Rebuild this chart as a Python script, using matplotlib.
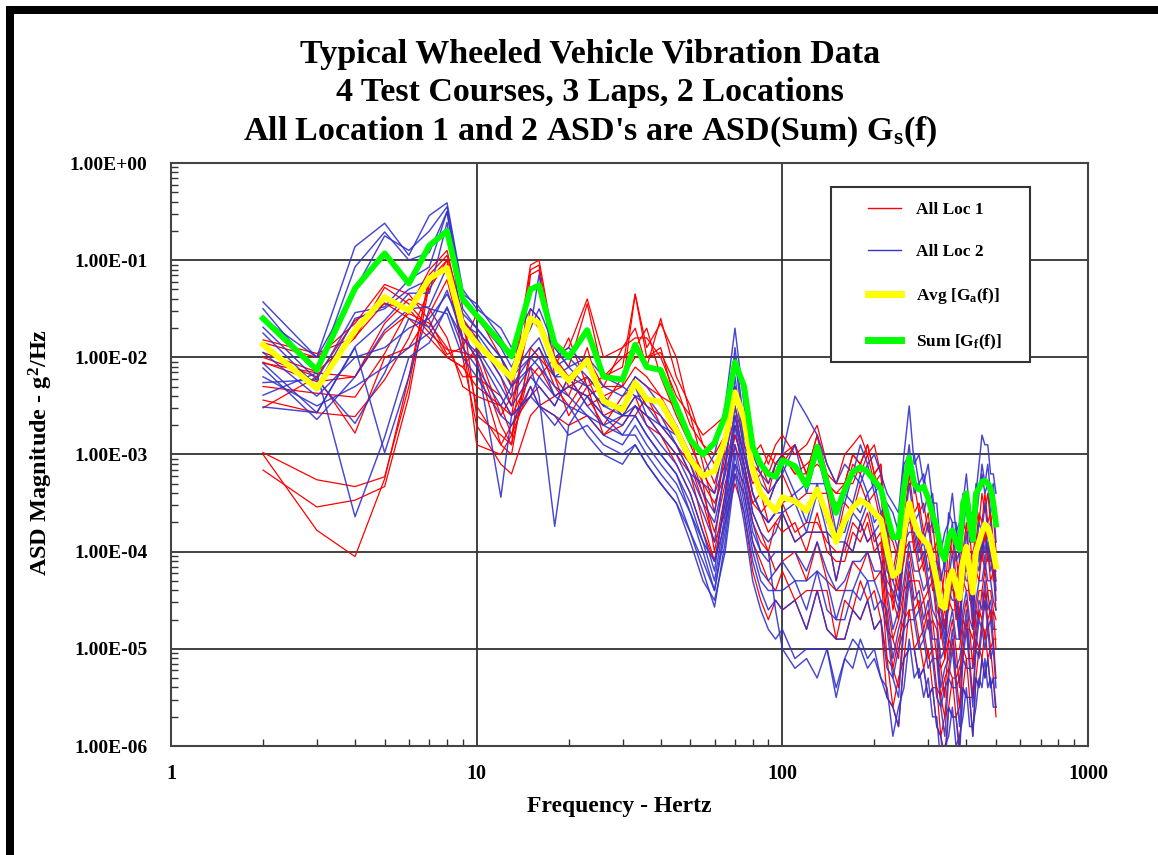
import matplotlib
matplotlib.use("Agg")
import matplotlib.pyplot as plt
import numpy as np
from matplotlib.lines import Line2D
from matplotlib.patches import Rectangle
from matplotlib.ticker import LogLocator, NullFormatter

plt.rcParams["font.family"] = ["Liberation Serif", "DejaVu Serif"]
plt.rcParams["font.weight"] = "bold"
plt.rcParams["mathtext.fontset"] = "custom"
plt.rcParams["mathtext.rm"] = "Liberation Serif:bold"
plt.rcParams["mathtext.it"] = "Liberation Serif:bold"
plt.rcParams["mathtext.bf"] = "Liberation Serif:bold"

# frequency grid (Hz) shared by every curve
freq = [2, 3, 4, 5, 6, 7, 8, 9, 10,
        12, 13, 15, 16, 18, 20, 23, 26, 30, 33, 36, 40, 45, 50, 55, 60, 65, 70, 75, 80, 85, 90, 95,
        100, 110, 120, 130, 140, 150, 160, 170, 180, 190, 200, 210,
        220, 230, 240, 250, 260, 270, 280, 290, 300, 310, 320, 330, 340, 350, 360, 370, 380, 390,
        400, 410, 420, 430, 440, 450, 460, 470, 480, 490, 500]

# all values below are log10(g^2/Hz)
avg_log = [-1.87, -2.32, -1.72, -1.38, -1.52, -1.19, -1.08, -1.68, -1.86,
           -2.1, -2.21, -1.6, -1.65, -2.08, -2.24, -2.03, -2.45, -2.54, -2.26, -2.43, -2.46, -2.75, -3.05, -3.22, -3.17, -2.85, -2.36, -2.64, -3.15, -3.4, -3.5, -3.58,
           -3.44, -3.48, -3.58, -3.36, -3.62, -3.9, -3.68, -3.55, -3.47, -3.52, -3.6, -3.67,
           -3.98, -4.25, -4.2, -3.8, -3.5, -3.7, -3.82, -3.88, -3.93, -4.1, -4.3, -4.55, -4.58, -4.3, -4.2, -4.35, -4.48, -4.1,
           -3.95, -4.2, -4.42, -4.0, -3.9, -3.8, -3.72, -3.75, -3.85, -4.0, -4.15]

sum_log = [-1.6, -2.13, -1.29, -0.93, -1.24, -0.85, -0.70, -1.40, -1.57,
           -1.85, -1.99, -1.3, -1.26, -1.86, -2.0, -1.72, -2.2, -2.23, -1.87, -2.1, -2.13, -2.5, -2.85, -3.0, -2.88, -2.6, -2.05, -2.3, -2.92, -3.1, -3.2, -3.23,
           -3.06, -3.12, -3.32, -2.92, -3.29, -3.6, -3.36, -3.18, -3.13, -3.18, -3.27, -3.35,
           -3.62, -3.85, -3.85, -3.35, -3.03, -3.3, -3.36, -3.33, -3.45, -3.62, -3.75, -4.0, -4.08, -3.85, -3.78, -3.9, -3.98, -3.5,
           -3.4, -3.7, -3.88, -3.4, -3.35, -3.28, -3.27, -3.3, -3.35, -3.5, -3.72]

loc1_log = [
    [-1.85, -2.0, -1.65, -1.25, -1.35, -1.62, -1.97, -1.9, -1.55,
     -2.0, -2.3, -1.05, -1.0, -1.9, -2.1, -1.45, -2.2, -2.1, -1.35, -1.9, -1.65, -2.0, -2.6, -2.8, -2.7, -2.6, -2.4, -2.7, -3.0, -2.9, -3.1, -2.9,
     -2.8, -3.0, -2.9, -2.7, -3.1, -3.3, -3.0, -2.9, -2.8, -3.0, -2.9, -3.2,
     -3.7, -4.2, -3.9, -3.7, -3.2, -3.6, -3.5, -3.8, -3.6, -4.0, -3.9, -4.5, -4.2, -4.2, -3.8, -4.3, -4.1, -4.0,
     -3.7, -4.1, -4.0, -3.9, -3.6, -3.7, -3.4, -3.7, -3.6, -3.9, -3.9],
    [-1.95, -2.15, -1.8, -1.28, -1.45, -1.7, -2.0, -2.1, -1.9,
     -2.6, -2.4, -1.1, -1.05, -2.0, -2.2, -2.0, -2.3, -1.9, -1.7, -2.1, -1.6, -2.2, -2.5, -2.9, -3.1, -2.9, -2.5, -2.9, -3.1, -3.2, -3.0, -3.1,
     -3.1, -2.9, -3.2, -2.8, -3.3, -3.4, -3.3, -3.0, -3.1, -2.9, -3.2, -3.1,
     -4.1, -4.2, -4.4, -3.7, -3.6, -3.6, -3.9, -3.8, -4.0, -4.0, -4.4, -4.5, -4.8, -4.2, -4.3, -4.3, -4.7, -4.0,
     -4.1, -4.1, -4.5, -3.9, -4.0, -3.7, -3.9, -3.7, -4.0, -3.9, -4.3],
    [-2.0, -2.2, -1.62, -1.45, -1.5, -1.75, -1.92, -1.95, -2.0,
     -2.7, -2.9, -1.15, -1.1, -2.2, -2.4, -1.9, -2.5, -2.2, -2.0, -2.0, -1.95, -2.3, -2.7, -2.9, -3.0, -2.8, -2.3, -2.8, -3.2, -3.1, -3.3, -3.1,
     -3.0, -3.2, -3.1, -3.0, -3.3, -3.4, -3.4, -3.1, -3.2, -3.0, -3.3, -3.2,
     -4.0, -4.5, -4.2, -4.0, -3.5, -3.9, -3.8, -4.1, -3.9, -4.3, -4.3, -4.8, -4.6, -4.5, -4.2, -4.6, -4.5, -4.3,
     -4.0, -4.4, -4.4, -4.2, -3.9, -4.0, -3.7, -4.0, -3.9, -4.2, -4.2],
    [-2.05, -2.25, -2.2, -1.65, -1.4, -1.5, -1.8, -2.3, -2.4,
     -2.5, -2.8, -2.0, -1.9, -2.3, -2.5, -2.2, -2.6, -2.5, -2.2, -2.3, -2.4, -2.5, -2.9, -3.2, -3.4, -3.1, -2.7, -3.0, -3.4, -3.6, -3.5, -3.3,
     -3.2, -3.5, -3.4, -3.4, -3.4, -3.9, -3.5, -3.6, -3.3, -3.5, -3.4, -3.7,
     -4.4, -4.5, -4.7, -4.0, -3.9, -3.9, -4.2, -4.1, -4.4, -4.3, -4.7, -4.8, -5.1, -4.5, -4.6, -4.6, -4.9, -4.3,
     -4.4, -4.4, -4.8, -4.2, -4.3, -4.0, -4.2, -4.0, -4.3, -4.2, -4.6],
    [-2.3, -2.37, -2.41, -1.96, -1.5, -1.1, -0.9, -1.6, -1.8,
     -2.2, -2.5, -1.6, -1.7, -2.0, -2.3, -2.4, -2.7, -2.4, -2.3, -2.5, -2.6, -2.8, -3.0, -3.4, -3.8, -3.3, -2.9, -3.2, -3.5, -3.4, -3.7, -3.6,
     -3.5, -3.8, -3.7, -3.7, -3.9, -4.0, -4.0, -3.7, -3.8, -3.6, -3.9, -3.8,
     -4.5, -4.9, -4.7, -4.4, -4.0, -4.3, -4.3, -4.5, -4.4, -4.7, -4.8, -5.2, -5.1, -4.9, -4.7, -5.0, -5.0, -4.7,
     -4.5, -4.8, -4.9, -4.6, -4.4, -4.4, -4.2, -4.4, -4.4, -4.6, -4.7],
    [-2.44, -2.57, -2.61, -2.23, -1.8, -1.3, -1.0, -1.7, -2.05,
     -2.9, -3.0, -1.9, -2.0, -2.2, -2.6, -2.3, -2.8, -2.6, -2.4, -2.7, -2.8, -3.0, -3.2, -3.7, -4.1, -3.5, -3.1, -3.3, -3.7, -3.9, -4.0, -4.2,
     -4.1, -4.0, -4.3, -3.9, -4.3, -4.4, -4.4, -4.1, -4.2, -4.0, -4.3, -4.2,
     -5.1, -5.2, -5.4, -4.7, -4.6, -4.6, -4.9, -4.8, -5.1, -5.0, -5.4, -5.5, -5.7, -5.2, -5.3, -5.3, -5.6, -5.0,
     -5.1, -5.1, -5.5, -4.9, -5.0, -4.7, -4.9, -4.7, -5.0, -4.9, -5.3],
    [-2.52, -2.2, -2.78, -2.0, -1.9, -1.55, -1.2, -1.85, -2.5,
     -2.9, -2.7, -2.4, -2.3, -2.5, -2.2, -2.5, -2.4, -2.6, -2.6, -2.4, -2.7, -2.9, -3.1, -3.5, -3.9, -3.6, -3.2, -3.4, -3.9, -4.1, -4.3, -4.4,
     -4.2, -4.5, -4.4, -4.4, -4.4, -4.9, -4.5, -4.6, -4.3, -4.5, -4.4, -4.7,
     -5.1, -5.6, -5.3, -5.1, -4.6, -5.0, -4.9, -5.2, -5.0, -5.4, -5.4, -5.9, -5.7, -5.6, -5.3, -5.7, -5.6, -5.4,
     -5.1, -5.5, -5.5, -5.3, -5.0, -5.1, -4.8, -5.1, -5.0, -5.3, -5.3],
    [-2.98, -3.26, -3.33, -3.23, -2.3, -1.15, -0.95, -1.55, -2.6,
     -2.8, -2.9, -2.1, -2.2, -2.0, -1.9, -1.4, -2.0, -1.9, -1.8, -1.8, -2.0, -2.4, -2.6, -3.1, -3.6, -3.0, -2.6, -3.0, -3.3, -3.2, -3.4, -3.1,
     -3.0, -2.9, -3.2, -2.8, -3.2, -3.3, -3.3, -3.0, -3.1, -2.9, -3.2, -3.1,
     -3.8, -3.9, -4.1, -3.4, -3.3, -3.3, -3.6, -3.5, -3.8, -3.7, -4.1, -4.2, -4.5, -3.9, -4.0, -4.0, -4.4, -3.7,
     -3.8, -3.8, -4.2, -3.6, -3.7, -3.4, -3.6, -3.4, -3.7, -3.6, -4.0],
    [-3.16, -3.54, -3.47, -3.33, -2.4, -1.25, -1.05, -1.8, -2.9,
     -3.0, -2.8, -2.3, -2.5, -2.4, -2.3, -2.2, -2.4, -2.3, -1.35, -2.0, -1.9, -2.5, -2.8, -3.3, -4.0, -3.4, -2.8, -3.1, -3.6, -3.8, -4.0, -3.7,
     -3.8, -3.7, -4.0, -3.6, -4.0, -4.1, -4.1, -3.8, -3.9, -3.7, -4.0, -3.9,
     -4.7, -5.2, -4.9, -4.7, -4.2, -4.6, -4.5, -4.8, -4.6, -5.0, -5.0, -5.5, -5.3, -5.2, -4.9, -5.3, -5.2, -5.0,
     -4.7, -5.1, -5.1, -4.9, -4.6, -4.7, -4.4, -4.7, -4.6, -4.9, -4.9],
    [-3.0, -3.78, -4.05, -3.25, -2.2, -1.2, -1.0, -2.0, -2.7,
     -3.1, -3.2, -2.6, -2.5, -2.6, -2.7, -2.6, -2.8, -2.7, -2.5, -2.6, -2.8, -3.1, -3.4, -3.8, -4.1, -3.7, -3.3, -3.6, -4.2, -4.5, -4.7, -4.5,
     -4.6, -4.5, -4.8, -4.4, -4.8, -4.9, -4.9, -4.6, -4.7, -4.5, -4.8, -4.7,
     -5.5, -5.6, -5.8, -5.1, -5.0, -5.0, -5.3, -5.2, -5.5, -5.4, -5.8, -5.9, -6.1, -5.6, -5.7, -5.7, -6.0, -5.4,
     -5.5, -5.5, -5.9, -5.3, -5.4, -5.1, -5.3, -5.1, -5.4, -5.3, -5.7],
    [-1.82, -1.96, -1.79, -1.44, -1.6, -1.8, -2.0, -2.1, -2.3,
     -2.5, -2.6, -1.5, -1.6, -2.1, -1.8, -2.3, -2.2, -2.0, -1.9, -1.7, -2.2, -2.6, -2.9, -3.0, -3.3, -2.9, -2.4, -2.7, -3.0, -3.1, -3.2, -3.0,
     -3.0, -3.2, -3.2, -3.1, -3.2, -3.6, -3.3, -3.3, -3.1, -3.2, -3.2, -3.4,
     -4.1, -4.6, -4.3, -4.1, -3.6, -4.0, -3.9, -4.2, -4.0, -4.4, -4.4, -4.9, -4.7, -4.6, -4.3, -4.7, -4.6, -4.4,
     -4.1, -4.5, -4.5, -4.3, -4.0, -4.1, -3.8, -4.1, -4.0, -4.3, -4.3],
    [-2.06, -2.16, -2.2, -1.75, -1.55, -1.65, -1.9, -2.2, -2.2,
     -2.4, -2.6, -2.2, -2.1, -2.4, -2.3, -2.4, -2.3, -2.3, -2.1, -2.2, -2.4, -2.7, -3.0, -3.3, -3.5, -3.2, -2.8, -3.1, -3.5, -3.6, -3.8, -3.7,
     -3.6, -3.9, -3.8, -3.8, -3.8, -4.3, -3.9, -4.0, -3.7, -3.9, -3.8, -4.1,
     -4.8, -4.9, -5.1, -4.4, -4.3, -4.3, -4.6, -4.5, -4.8, -4.7, -5.1, -5.2, -5.5, -4.9, -5.0, -5.0, -5.4, -4.7,
     -4.8, -4.8, -5.2, -4.6, -4.7, -4.4, -4.6, -4.4, -4.7, -4.6, -5.0],
]

loc2_log = [
    [-1.43, -2.0, -0.86, -0.62, -0.95, -0.54, -0.41, -1.3, -1.5,
     -1.7, -1.9, -1.5, -1.6, -2.0, -1.9, -2.1, -2.3, -2.4, -2.2, -2.3, -2.5, -2.7, -3.0, -3.2, -3.0, -2.5, -1.7, -2.5, -3.0, -3.2, -3.3, -3.1,
     -3.0, -2.4, -2.6, -2.8, -3.1, -3.3, -3.1, -3.2, -2.9, -3.1, -3.0, -3.2,
     -3.4, -3.5, -3.6, -3.0, -2.5, -3.1, -3.0, -3.3, -3.1, -3.5, -3.5, -4.0, -3.8, -3.7, -3.4, -3.8, -3.7, -3.5,
     -3.2, -3.6, -3.6, -3.4, -3.1, -2.8, -2.9, -2.9, -3.2, -3.2, -3.4],
    [-1.5, -2.16, -1.07, -0.71, -1.0, -0.92, -0.5, -1.4, -1.6,
     -1.9, -2.1, -1.7, -1.15, -2.1, -2.0, -2.2, -2.4, -2.6, -2.4, -2.5, -2.7, -2.8, -3.1, -3.4, -3.6, -2.9, -1.9, -2.7, -3.2, -3.4, -3.5, -3.3,
     -3.2, -2.9, -3.4, -3.0, -3.4, -3.5, -3.5, -3.2, -3.3, -3.1, -3.4, -3.3,
     -3.7, -3.8, -4.0, -3.3, -2.9, -3.4, -3.3, -3.6, -3.4, -3.8, -3.8, -4.3, -4.1, -4.0, -3.7, -4.1, -4.0, -3.8,
     -3.5, -3.9, -3.9, -3.7, -3.4, -3.2, -3.4, -3.3, -3.6, -3.5, -3.9],
    [-1.69, -2.23, -1.54, -1.48, -1.2, -1.07, -0.5, -1.5, -1.7,
     -2.0, -2.2, -1.9, -1.8, -2.2, -2.1, -2.3, -2.5, -2.5, -2.3, -2.6, -2.8, -3.0, -3.3, -3.6, -3.9, -3.1, -2.3, -3.0, -3.4, -3.6, -3.7, -3.6,
     -3.5, -3.4, -3.7, -3.3, -3.7, -3.8, -3.8, -3.5, -3.6, -3.4, -3.7, -3.6,
     -3.8, -4.3, -4.0, -3.8, -3.3, -3.7, -3.6, -3.9, -3.7, -4.1, -4.1, -4.6, -4.4, -4.3, -4.0, -4.4, -4.3, -4.1,
     -3.8, -4.2, -4.2, -4.0, -3.7, -3.8, -3.5, -3.8, -3.7, -4.0, -4.0],
    [-2.06, -2.57, -1.89, -1.62, -1.34, -1.34, -0.61, -1.7, -1.8,
     -2.2, -2.4, -2.1, -2.0, -2.4, -2.3, -2.4, -2.6, -2.7, -2.5, -2.7, -2.9, -3.1, -3.4, -3.8, -4.2, -3.4, -2.5, -3.1, -3.6, -3.8, -3.9, -3.8,
     -3.6, -3.9, -3.8, -3.8, -3.8, -4.3, -3.9, -4.0, -3.7, -3.9, -3.8, -4.1,
     -4.3, -4.4, -4.6, -3.9, -3.8, -3.8, -4.1, -4.0, -4.3, -4.2, -4.6, -4.7, -5.0, -4.4, -4.5, -4.5, -4.9, -4.2,
     -4.3, -4.3, -4.7, -4.1, -4.2, -3.9, -4.1, -3.9, -4.2, -4.1, -4.5],
    [-2.11, -2.64, -2.2, -1.72, -1.5, -1.48, -1.07, -1.6, -1.9,
     -2.3, -2.5, -2.2, -2.3, -2.5, -2.2, -2.5, -2.7, -2.8, -2.6, -2.8, -3.0, -3.2, -3.5, -3.9, -4.3, -3.6, -2.7, -3.3, -3.8, -4.0, -4.1, -4.0,
     -4.0, -4.0, -4.2, -3.9, -4.2, -4.4, -4.3, -4.1, -4.1, -4.0, -4.2, -4.2,
     -4.4, -4.8, -4.6, -4.3, -3.9, -4.2, -4.2, -4.4, -4.3, -4.6, -4.7, -5.1, -5.0, -4.8, -4.6, -4.9, -4.9, -4.6,
     -4.4, -4.7, -4.8, -4.5, -4.3, -4.3, -4.1, -4.3, -4.3, -4.5, -4.6],
    [-2.26, -2.23, -2.68, -2.16, -1.6, -1.69, -1.31, -1.8, -2.0,
     -3.44, -2.6, -2.4, -2.2, -2.4, -2.5, -2.6, -2.8, -2.9, -2.7, -2.9, -3.1, -3.3, -3.6, -4.0, -4.4, -3.7, -2.9, -3.4, -3.9, -4.2, -4.3, -4.2,
     -4.1, -4.3, -4.3, -4.2, -4.3, -4.7, -4.4, -4.4, -4.2, -4.3, -4.3, -4.5,
     -4.6, -5.1, -4.8, -4.6, -4.1, -4.5, -4.4, -4.7, -4.5, -4.9, -4.9, -5.4, -5.2, -5.1, -4.8, -5.2, -5.1, -4.9,
     -4.6, -5.0, -5.0, -4.8, -4.5, -4.6, -4.3, -4.6, -4.5, -4.8, -4.8],
    [-2.39, -2.16, -3.64, -2.82, -2.0, -1.85, -1.48, -1.9, -2.1,
     -2.5, -2.3, -2.1, -2.4, -3.74, -2.7, -2.4, -2.6, -2.8, -2.8, -3.0, -3.2, -3.4, -3.8, -4.2, -4.57, -3.9, -3.1, -3.6, -4.1, -4.4, -4.6, -4.5,
     -4.6, -4.5, -4.8, -4.4, -4.8, -4.9, -4.9, -4.6, -4.7, -4.5, -4.8, -4.7,
     -5.2, -5.3, -5.5, -4.8, -4.7, -4.7, -5.0, -4.9, -5.2, -5.1, -5.5, -5.6, -5.9, -5.3, -5.4, -5.4, -5.8, -5.1,
     -5.2, -5.2, -5.6, -5.0, -5.1, -4.8, -5.0, -4.8, -5.1, -5.0, -5.4],
    [-2.51, -2.57, -1.9, -2.98, -2.2, -1.5, -1.55, -2.0, -2.2,
     -2.6, -2.7, -2.3, -2.5, -2.6, -2.8, -2.7, -2.9, -3.0, -2.9, -3.1, -3.3, -3.5, -3.9, -4.3, -4.5, -4.0, -3.2, -3.7, -4.3, -4.6, -4.8, -4.9,
     -4.8, -5.1, -5.0, -5.0, -5.0, -5.5, -5.1, -5.2, -4.9, -5.1, -5.0, -5.3,
     -5.4, -5.9, -5.6, -5.4, -4.9, -5.3, -5.2, -5.5, -5.3, -5.7, -5.7, -6.2, -6.0, -5.9, -5.6, -6.0, -5.9, -5.7,
     -5.4, -5.8, -5.8, -5.6, -5.3, -5.4, -5.1, -5.4, -5.3, -5.6, -5.6],
    [-1.6, -2.0, -1.3, -0.75, -0.9, -0.7, -0.45, -1.35, -1.45,
     -1.8, -2.0, -1.7, -1.5, -1.9, -2.1, -2.0, -2.2, -2.3, -2.4, -2.4, -2.6, -2.9, -3.2, -3.3, -3.4, -2.8, -2.0, -2.8, -3.1, -3.3, -3.4, -3.3,
     -3.1, -3.4, -3.3, -3.3, -3.3, -3.8, -3.4, -3.5, -3.2, -3.4, -3.3, -3.6,
     -3.5, -3.6, -3.8, -3.1, -3.0, -3.0, -3.3, -3.2, -3.5, -3.4, -3.8, -3.9, -4.2, -3.6, -3.7, -3.7, -4.1, -3.4,
     -3.5, -3.5, -3.9, -3.3, -3.4, -3.1, -3.3, -3.1, -3.4, -3.3, -3.7],
    [-1.95, -2.4, -2.0, -1.9, -1.7, -1.6, -1.35, -1.65, -1.75,
     -2.1, -2.3, -2.0, -2.1, -2.3, -2.4, -2.6, -2.7, -2.6, -2.6, -2.8, -3.0, -3.2, -3.6, -3.9, -4.1, -3.5, -2.6, -3.2, -3.7, -4.0, -4.0, -4.6,
     -5.0, -5.2, -5.1, -5.3, -5.0, -5.4, -5.1, -4.9, -5.0, -5.2, -5.1, -5.3,
     -5.5, -5.6, -5.8, -5.1, -5.0, -5.0, -5.3, -5.2, -5.5, -5.4, -5.8, -5.9, -6.3, -5.6, -5.7, -5.7, -6.1, -5.4,
     -5.5, -5.5, -5.9, -5.3, -5.4, -5.1, -5.3, -5.1, -5.4, -5.3, -5.6],
    [-2.2, -2.5, -2.3, -2.1, -1.9, -1.75, -1.5, -1.8, -1.95,
     -2.4, -2.6, -2.4, -2.5, -2.7, -2.5, -2.8, -3.0, -3.1, -2.9, -3.1, -3.3, -3.5, -3.8, -4.1, -4.4, -3.8, -3.0, -3.5, -4.0, -4.3, -4.4, -4.4,
     -4.4, -4.3, -4.6, -4.2, -4.6, -4.7, -4.7, -4.4, -4.5, -4.3, -4.6, -4.5,
     -4.8, -5.3, -5.0, -4.8, -4.3, -4.7, -4.6, -4.9, -4.7, -5.1, -5.1, -5.6, -5.4, -5.3, -5.0, -5.4, -5.3, -5.1,
     -4.8, -5.2, -5.2, -5.0, -4.7, -4.8, -4.5, -4.8, -4.7, -5.0, -5.0],
    [-1.75, -2.3, -1.6, -1.5, -1.3, -1.2, -1.1, -1.55, -1.7,
     -2.0, -2.2, -2.0, -1.9, -2.2, -2.2, -2.3, -2.5, -2.6, -2.5, -2.6, -2.7, -2.9, -3.2, -3.5, -3.7, -3.2, -2.2, -2.9, -3.4, -3.6, -3.7, -3.6,
     -3.6, -3.5, -3.8, -3.4, -3.8, -3.9, -3.9, -3.6, -3.7, -3.5, -3.8, -3.7,
     -4.2, -4.3, -4.5, -3.8, -3.7, -3.7, -4.0, -3.9, -4.2, -4.1, -4.5, -4.6, -4.9, -4.3, -4.4, -4.4, -4.8, -4.1,
     -4.2, -4.2, -4.6, -4.0, -4.1, -3.8, -4.0, -3.8, -4.1, -4.0, -4.4],
]

title_lines = ["Typical Wheeled Vehicle Vibration Data",
               "4 Test Courses, 3 Laps, 2 Locations",
               r"All Location 1 and 2 ASD's are ASD(Sum) G$_\mathrm{s}$(f)"]
legend_labels = ["All Loc 1", "All Loc 2", r"Avg [G$_\mathrm{a}$(f)]", r"Sum [G$_\mathrm{f}$(f)]"]
ytick_vals = [1e-6, 1e-5, 1e-4, 1e-3, 1e-2, 1e-1, 1e0]
ytick_labels = ["1.00E-06", "1.00E-05", "1.00E-04", "1.00E-03", "1.00E-02", "1.00E-01", "1.00E+00"]
xtick_vals = [1, 10, 100, 1000]
xtick_labels = ["1", "10", "100", "1000"]

red = "#ff0000"
blue = "#3333cc"
yellow = "#ffff00"
green = "#00ff00"

W, H = 1158, 855
fig = plt.figure(figsize=(W / 100, H / 100), dpi=100)
ax = fig.add_axes([171 / W, 1 - 746 / H, (1088 - 171) / W, (746 - 163) / H])

f = np.array(freq, dtype=float)
for tr in loc1_log:
    ax.plot(f, 10.0 ** np.array(tr), color=red, lw=0.9)
for tr in loc2_log:
    ax.plot(f, 10.0 ** np.array(tr), color=blue, lw=1.05, alpha=0.9)
ax.plot(f, 10.0 ** np.array(avg_log), color=yellow, lw=4.2, solid_joinstyle="round")
ax.plot(f, 10.0 ** np.array(sum_log), color=green, lw=4.2, solid_joinstyle="round")

ax.set_xscale("log")
ax.set_yscale("log")
ax.set_xlim(1, 1000)
ax.set_ylim(1e-6, 1)
ax.set_yticks(ytick_vals, labels=ytick_labels)
ax.set_xticks(xtick_vals, labels=xtick_labels)
ax.yaxis.set_minor_locator(LogLocator(base=10, subs=np.arange(2, 10), numticks=20))
ax.xaxis.set_minor_locator(LogLocator(base=10, subs=np.arange(2, 10), numticks=20))
ax.yaxis.set_minor_formatter(NullFormatter())
ax.xaxis.set_minor_formatter(NullFormatter())
ax.tick_params(which="both", direction="in", colors="black")
ax.tick_params(which="major", length=0)
ax.tick_params(which="minor", length=5, width=1, color="#333333")
ax.tick_params(axis="y", which="major", labelsize=14, pad=17)
ax.tick_params(axis="x", which="major", labelsize=14.5, pad=13)
for lab in ax.get_xticklabels() + ax.get_yticklabels():
    lab.set_fontweight("bold")

ax.set_axisbelow(True)
ax.grid(True, which="major", color="#333333", lw=1.3)
for sp in ax.spines.values():
    sp.set_color("#444444")
    sp.set_linewidth(1.5)

ax.set_xlabel("Frequency - Hertz", fontsize=17, fontweight="bold")
ax.xaxis.set_label_coords((619.5 - 171) / 917, -(796 - 746) / 583)
ax.set_ylabel("ASD Magnitude - g$^2$/Hz", fontsize=17.5, fontweight="bold")
ax.yaxis.set_label_coords((55 - 171) / 917, 1 - (452 - 163) / 583)

# legend box drawn on its own so the entries can sit inside it like the original
ax.add_patch(Rectangle(((831 - 171) / 917, 1 - (362 - 163) / 583), (1030 - 831) / 917, (362 - 187) / 583,
                       transform=ax.transAxes, facecolor="white", edgecolor="#333333",
                       lw=1.5, zorder=4))
handles = [Line2D([], [], color=red, lw=1.0),
           Line2D([], [], color=blue, lw=1.0),
           Line2D([], [], color=yellow, lw=5.0),
           Line2D([], [], color=green, lw=5.0)]
leg = ax.legend(handles, legend_labels, loc="upper left",
                bbox_to_anchor=((868 - 171) / 917, 1 - (202 - 163) / 583),
                prop={"family": "Liberation Serif", "weight": "bold", "size": 12.5},
                frameon=False, labelspacing=1.5, borderpad=0,
                handlelength=1.9, handletextpad=0.85, borderaxespad=0)
leg.set_zorder(5)

title_y = [55, 93, 132]
for line, yp in zip(title_lines, title_y):
    fig.text(590 / W, 1 - yp / H, line, ha="center", va="center",
             fontsize=24.5, fontweight="bold")

# thick black frame on the left and top edges of the picture
fig.add_artist(Rectangle((6 / W, 0), 8 / W, 1 - 6 / H, transform=fig.transFigure,
                         facecolor="black", edgecolor="none"))
fig.add_artist(Rectangle((6 / W, 1 - 14 / H), 1, 8 / H, transform=fig.transFigure,
                         facecolor="black", edgecolor="none"))

fig.savefig("out.png", dpi=100)
